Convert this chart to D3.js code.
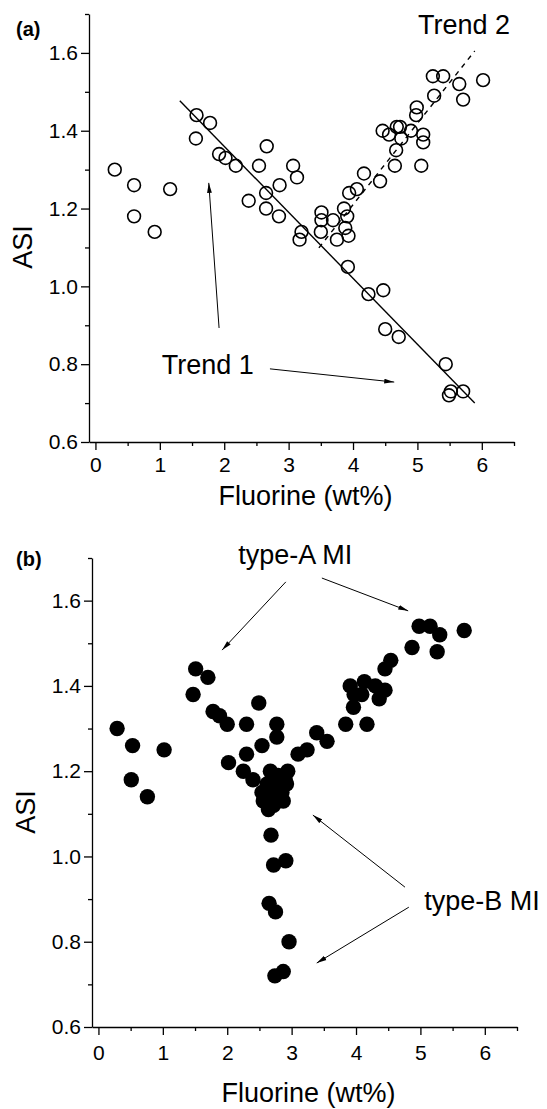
<!DOCTYPE html>
<html>
<head>
<meta charset="utf-8">
<script src="https://cdn.jsdelivr.net/npm/d3@7"></script>
<style>
  html, body { margin: 0; padding: 0; background: #fff; }
  svg { display: block; }
  text { font-family: "Liberation Sans", Arial, sans-serif; fill: #000; }
</style>
</head>
<body>
<svg id="chart" width="547" height="1109"></svg>
<script>
// Axis ticks
const majorTicksX = [0, 1, 2, 3, 4, 5, 6];
const minorTicksX = [0.5, 1.5, 2.5, 3.5, 4.5, 5.5, 6.5];
const majorTicksY = [0.6, 0.8, 1.0, 1.2, 1.4, 1.6];
const minorTicksY = [0.7, 0.9, 1.1, 1.3, 1.5, 1.7];
const xLabel = "Fluorine (wt%)";
const yLabel = "ASI";

// Panel (a): measured melt inclusions
const fluorineA = [0.30,0.60,0.60,0.92,1.16,1.57,1.56,1.78,1.92,2.02,2.18,2.38,2.54,2.66,2.65,2.65,2.86,2.85,3.07,3.13,3.20,3.17,3.51,3.51,3.50,3.69,3.75,3.86,3.91,3.88,3.93,3.94,4.06,4.17,4.42,4.65,5.06,4.67,5.24,5.40,5.65,5.71,6.02,5.26,4.99,4.98,4.46,4.56,4.73,4.68,4.90,5.09,5.09,4.75,3.92,4.24,4.47,4.50,4.71,5.44,5.49,5.52,5.71];
const asiA = [1.30,1.26,1.18,1.14,1.25,1.44,1.38,1.42,1.34,1.33,1.31,1.22,1.31,1.36,1.24,1.20,1.26,1.18,1.31,1.28,1.14,1.12,1.19,1.17,1.14,1.17,1.12,1.20,1.18,1.15,1.13,1.24,1.25,1.29,1.27,1.31,1.31,1.35,1.54,1.54,1.52,1.48,1.53,1.49,1.46,1.44,1.40,1.39,1.41,1.41,1.40,1.39,1.37,1.38,1.05,0.98,0.99,0.89,0.87,0.80,0.72,0.73,0.73];

// Trend lines of panel (a), as [fluorine, ASI] end points
const trend1 = [[1.31, 1.477], [5.89, 0.70]];
const trend2 = [[3.47, 1.099], [5.89, 1.605]];

// Panel (b): type-A and type-B melt inclusions
const fluorineB = [0.29,0.53,0.51,0.76,1.02,1.51,1.47,1.70,1.78,1.88,2.00,2.02,2.30,2.49,2.30,2.54,2.25,2.40,2.77,2.77,3.39,3.55,3.10,3.24,2.94,2.92,2.67,2.79,2.62,2.77,2.54,2.70,2.85,2.56,2.72,2.87,2.64,2.68,2.72,2.91,2.65,2.75,2.96,2.74,2.87,4.98,5.15,5.30,5.26,5.68,4.87,4.54,4.45,3.91,3.97,4.13,4.30,4.45,4.09,4.36,3.96,3.84,4.17,2.90];
const asiB = [1.30,1.26,1.18,1.14,1.25,1.44,1.38,1.42,1.34,1.33,1.31,1.22,1.31,1.36,1.24,1.26,1.20,1.18,1.31,1.28,1.29,1.27,1.24,1.25,1.20,1.17,1.20,1.19,1.17,1.17,1.15,1.15,1.15,1.13,1.12,1.13,1.11,1.05,0.98,0.99,0.89,0.87,0.80,0.72,0.73,1.54,1.54,1.52,1.48,1.53,1.49,1.46,1.44,1.40,1.38,1.41,1.40,1.39,1.38,1.37,1.35,1.31,1.31,1.18];

const svg = d3.select("#chart");
svg.append("rect").attr("width", 547).attr("height", 1109).attr("fill", "#fff");

// arrowhead marker
svg.append("defs").append("marker")
  .attr("id", "arrowhead")
  .attr("viewBox", "0 0 10 6")
  .attr("refX", 10).attr("refY", 3)
  .attr("markerWidth", 10).attr("markerHeight", 6)
  .attr("markerUnits", "userSpaceOnUse")
  .attr("orient", "auto")
  .append("path").attr("d", "M0,0.6 L10,3 L0,5.4 Z").attr("fill", "#000");

function drawPanel(opt) {
  const x = d3.scaleLinear().domain([-0.1, 6.5]).range([opt.left, opt.right]);
  const y = d3.scaleLinear().domain([0.6, 1.7]).range([opt.bottom, opt.top]);
  const g = svg.append("g");

  // axes: major ticks with labels, minor ticks without
  const fmt = d3.format(".1f");
  const xg = g.append("g").attr("transform", `translate(0,${opt.bottom})`);
  xg.call(d3.axisBottom(x).tickValues(majorTicksX).tickSize(8).tickSizeOuter(0)
      .tickPadding(opt.xPad).tickFormat(d3.format("d")));
  xg.append("g").call(d3.axisBottom(x).tickValues(minorTicksX).tickSize(4).tickSizeOuter(0).tickFormat(""))
    .select(".domain").remove();
  const yg = g.append("g").attr("transform", `translate(${opt.left},0)`);
  yg.call(d3.axisLeft(y).tickValues(majorTicksY).tickSize(8).tickSizeOuter(0)
      .tickPadding(3).tickFormat(fmt));
  yg.append("g").call(d3.axisLeft(y).tickValues(minorTicksY).tickSize(4).tickSizeOuter(0).tickFormat(""))
    .select(".domain").remove();
  g.selectAll(".domain, .tick line").attr("stroke", "#000").attr("stroke-width", 1.3);
  g.selectAll(".tick text").attr("font-size", 21)
    .attr("font-family", "'Liberation Sans', Arial, sans-serif").attr("fill", "#000");

  // axis titles
  g.append("text").attr("x", (opt.left + opt.right) / 2 + 4).attr("y", opt.xTitleY)
    .attr("text-anchor", "middle").attr("font-size", 27).text(xLabel);
  g.append("text")
    .attr("transform", `translate(${opt.yTitleX},${opt.yTitleY}) rotate(-90)`)
    .attr("text-anchor", "middle").attr("font-size", 27).text(yLabel);

  // panel tag
  g.append("text").attr("x", 16).attr("y", opt.tagY)
    .attr("font-size", 20).attr("font-weight", "bold").text(opt.tag);

  return { g, x, y };
}

// ---- Panel (a) ----
const A = drawPanel({ left: 89, right: 514, top: 14, bottom: 442, xPad: 7,
  xTitleY: 505, yTitleX: 32, yTitleY: 247, tagY: 36, tag: "(a)" });

const line = d3.line().x(d => A.x(d[0])).y(d => A.y(d[1]));
A.g.append("path").datum(trend1).attr("d", line)
  .attr("fill", "none").attr("stroke", "#000").attr("stroke-width", 1.4);
A.g.append("path").datum(trend2).attr("d", line)
  .attr("fill", "none").attr("stroke", "#000").attr("stroke-width", 1.4)
  .attr("stroke-dasharray", "5,5");

A.g.append("g").selectAll("circle")
  .data(fluorineA.map((f, i) => [f, asiA[i]]))
  .join("circle")
  .attr("cx", d => A.x(d[0])).attr("cy", d => A.y(d[1]))
  .attr("r", 6.4).attr("fill", "none").attr("stroke", "#000").attr("stroke-width", 1.6);

const arrowsA = [
  [[1.92, 0.893], [1.76, 1.266]],
  [[2.71, 0.788], [4.64, 0.754]]
];
A.g.append("g").selectAll("line").data(arrowsA).join("line")
  .attr("x1", d => A.x(d[0][0])).attr("y1", d => A.y(d[0][1]))
  .attr("x2", d => A.x(d[1][0])).attr("y2", d => A.y(d[1][1]))
  .attr("stroke", "#000").attr("stroke-width", 1).attr("marker-end", "url(#arrowhead)");

A.g.append("text").attr("x", A.x(1.03)).attr("y", A.y(0.775)).attr("font-size", 27).text("Trend 1");
A.g.append("text").attr("x", A.x(5.01)).attr("y", A.y(1.649)).attr("font-size", 27).text("Trend 2");

// ---- Panel (b) ----
const B = drawPanel({ left: 92, right: 517, top: 558, bottom: 1027, xPad: 10,
  xTitleY: 1102, yTitleX: 35, yTitleY: 812, tagY: 566, tag: "(b)" });

B.g.append("g").selectAll("circle")
  .data(fluorineB.map((f, i) => [f, asiB[i]]))
  .join("circle")
  .attr("cx", d => B.x(d[0])).attr("cy", d => B.y(d[1]))
  .attr("r", 7.7).attr("fill", "#000");

const arrowsB = [
  [[2.91, 1.644], [1.92, 1.484]],
  [[3.47, 1.653], [4.81, 1.576]],
  [[4.76, 0.928], [3.33, 1.097]],
  [[4.82, 0.881], [3.39, 0.750]]
];
B.g.append("g").selectAll("line").data(arrowsB).join("line")
  .attr("x1", d => B.x(d[0][0])).attr("y1", d => B.y(d[0][1]))
  .attr("x2", d => B.x(d[1][0])).attr("y2", d => B.y(d[1][1]))
  .attr("stroke", "#000").attr("stroke-width", 1).attr("marker-end", "url(#arrowhead)");

B.g.append("text").attr("x", B.x(2.17)).attr("y", B.y(1.686)).attr("font-size", 27).text("type-A MI");
B.g.append("text").attr("x", B.x(5.06)).attr("y", B.y(0.874)).attr("font-size", 27).text("type-B MI");
</script>
</body>
</html>
